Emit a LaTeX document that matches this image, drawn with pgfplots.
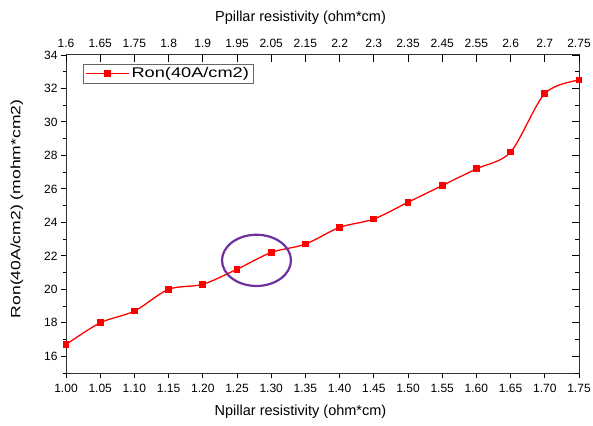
\documentclass[border=0pt]{standalone}
\usepackage{pgfplots}
\pgfplotsset{compat=1.18}
\usepackage{fontspec}
\setmainfont{Liberation Sans}
\newfontfamily\legfont[FakeStretch=1.3]{Liberation Sans}
\newfontfamily\ylabfont[FakeStretch=1.3]{Liberation Sans}
\definecolor{circpurple}{RGB}{112,48,160}
\begin{document}
\begin{tikzpicture}
\begin{axis}[
  at={(0pt,0pt)}, anchor=south west,
  scale only axis, width=513pt, height=318pt,
  xmin=1, xmax=1.75, ymin=15, ymax=34,
  axis line style={line width=1pt, draw=black!80},
  xtick pos=lower, ytick pos=left, tick align=outside,
  major tick length=5pt, minor tick length=3pt,
  every tick/.style={black, line width=0.9pt},
  xtick={1,1.05,1.1,1.15,1.2,1.25,1.3,1.35,1.4,1.45,1.5,1.55,1.6,1.65,1.7,1.75},
  xticklabels={1.00,1.05,1.10,1.15,1.20,1.25,1.30,1.35,1.40,1.45,1.50,1.55,1.60,1.65,1.70,1.75},
  ytick={16,18,20,22,24,26,28,30,32,34},
  minor ytick={15,17,19,21,23,25,27,29,31,33},
  /pgf/number format/assume math mode=true,
  tick label style={font=\fontsize{12}{14}\selectfont},
  xticklabel style={yshift=-2.5pt},
  xlabel={Npillar resistivity (ohm*cm)},
  xlabel style={at={(rel axis cs:0.5,0)}, anchor=center, yshift=-39pt, xshift=-22pt, font=\fontsize{14.5}{17}\selectfont},
  ylabel={Ron(40A/cm2) (mohm*cm2)},
  ylabel style={at={(rel axis cs:0,0.516)}, anchor=center, yshift=49pt, font=\ylabfont\fontsize{13.5}{16}\selectfont},
  legend style={at={(rel axis cs:0.0331,0.9717)}, anchor=north west, draw=black!60, line width=0.6pt,
    inner xsep=2pt, inner ysep=1.5pt, font=\legfont\fontsize{14}{16}\selectfont},
  legend cell align=left,
  legend image code/.code={\draw[mark repeat=2,mark phase=2,#1] plot coordinates {(0pt,0pt) (21.5pt,0pt) (43pt,0pt)};},
]
\addplot[red, line width=1.3pt, smooth, tension=0.5, mark=square*, mark size=2.7pt, mark options={solid, fill=red}]
coordinates {
(1.00,16.7) (1.05,18.0) (1.10,18.7) (1.15,20.0) (1.20,20.3) (1.25,21.2)
(1.30,22.2) (1.35,22.7) (1.40,23.7) (1.45,24.2) (1.50,25.2) (1.55,26.2)
(1.60,27.2) (1.65,28.2) (1.70,31.7) (1.75,32.5)
};
\addlegendentry{Ron(40A/cm2)}
\draw[circpurple, line width=2.2pt] (axis cs:1.2785,21.73) ellipse [x radius=0.0504, y radius=1.53];
\end{axis}
\begin{axis}[
  at={(0pt,0pt)}, anchor=south west,
  scale only axis, width=513pt, height=318pt,
  xmin=1, xmax=1.75, ymin=15, ymax=34,
  axis line style={draw=none},
  xtick pos=upper, xticklabel pos=upper, ytick pos=right, yticklabel pos=right,
  tick align=inside,
  major tick length=7pt, minor tick length=4pt,
  every tick/.style={black, line width=0.9pt},
  xtick={1,1.05,1.1,1.15,1.2,1.25,1.3,1.35,1.4,1.45,1.5,1.55,1.6,1.65,1.7,1.75},
  xticklabels={1.6,1.65,1.75,1.8,1.9,1.95,2.05,2.15,2.2,2.3,2.35,2.45,2.55,2.6,2.7,2.75},
  ytick={16,18,20,22,24,26,28,30,32,34},
  minor ytick={15,17,19,21,23,25,27,29,31,33},
  yticklabels={},
  tick label style={font=\fontsize{12}{14}\selectfont},
  xticklabel style={yshift=4pt},
  xlabel={Ppillar resistivity (ohm*cm)},
  xlabel style={at={(rel axis cs:0.5,1)}, anchor=center, yshift=37pt, xshift=-22pt, font=\fontsize{14.5}{17}\selectfont},
]
\addplot[draw=none] coordinates {(1,20)};
\end{axis}
\pgfresetboundingbox
\useasboundingbox (-66pt,-52pt) rectangle (527pt,373pt);
\end{tikzpicture}
\end{document}
